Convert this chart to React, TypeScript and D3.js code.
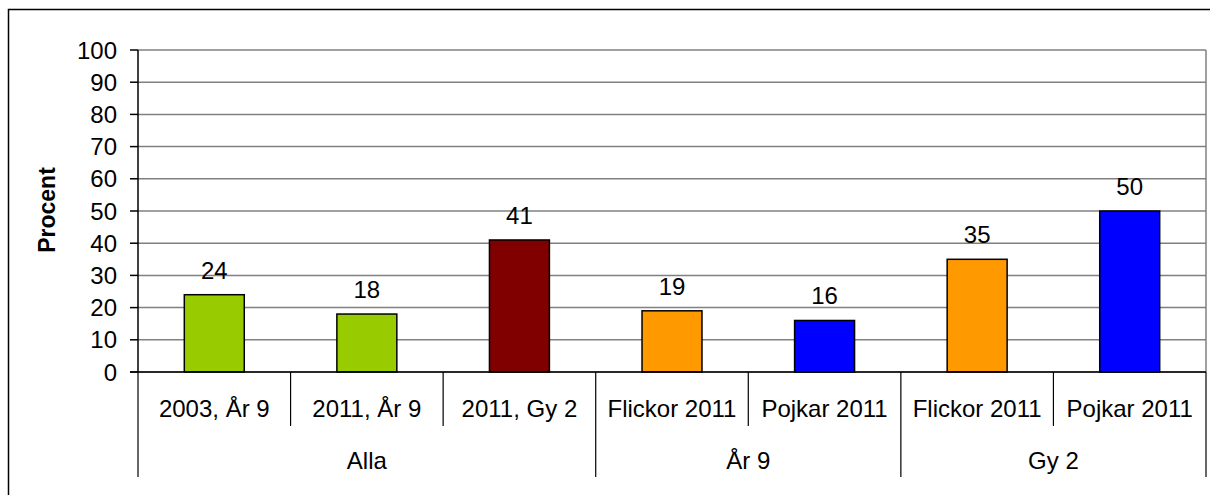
import React from "react";
import * as d3 from "d3";

const categories = [
  "2003, År 9",
  "2011, År 9",
  "2011, Gy 2",
  "Flickor 2011",
  "Pojkar 2011",
  "Flickor 2011",
  "Pojkar 2011",
];
const values = [24, 18, 41, 19, 16, 35, 50];
const barColors = ["#99CC00", "#99CC00", "#800000", "#FF9900", "#0000FF", "#FF9900", "#0000FF"];
const groupNames = ["Alla", "År 9", "Gy 2"];
const groupSizes = [3, 2, 2];
const yTicks = [0, 10, 20, 30, 40, 50, 60, 70, 80, 90, 100];

const width = 1210;
const height = 495;
const plot = { left: 138, right: 1206, top: 50, bottom: 372 };
const font = "Liberation Sans, Arial, sans-serif";
const fontSize = 24;

const App: React.FC = () => {
  const x = d3
    .scaleBand<number>()
    .domain(categories.map((_, i) => i))
    .range([plot.left, plot.right])
    .padding(0);
  const y = d3.scaleLinear().domain([0, 100]).range([plot.bottom, plot.top]);
  const bw = x.bandwidth();
  const barW = bw * 0.393;

  // where each group begins / ends
  const groupStarts: number[] = [];
  let acc = 0;
  groupSizes.forEach((s) => {
    groupStarts.push(acc);
    acc += s;
  });
  const groupEdges = [...groupStarts, categories.length];
  const edgeX = (i: number) => (i < categories.length ? (x(i) as number) : plot.right);

  return (
    <div style={{ position: "fixed", left: 0, top: 0 }}>
      <svg width={width} height={height} style={{ display: "block", background: "#fff" }}>
        {/* outer frame */}
        <rect x={8.5} y={9.5} width={width + 10} height={height + 10} fill="none" stroke="#000" strokeWidth={1.5} />

        {/* gridlines */}
        {yTicks.map((t) => (
          <line key={t} x1={plot.left} x2={plot.right} y1={y(t)} y2={y(t)} stroke="#808080" strokeWidth={1.5} />
        ))}
        <line x1={plot.right} x2={plot.right} y1={plot.top} y2={plot.bottom} stroke="#808080" strokeWidth={1.5} />

        {/* y ticks and labels */}
        {yTicks.map((t) => (
          <g key={"t" + t}>
            <line x1={plot.left - 8} x2={plot.left} y1={y(t)} y2={y(t)} stroke="#000" strokeWidth={1.5} />
            <text x={117} y={y(t) + 8.5} textAnchor="end" fontFamily={font} fontSize={fontSize} fill="#000">
              {t}
            </text>
          </g>
        ))}

        <text
          transform={`translate(55,210) rotate(-90)`}
          textAnchor="middle"
          fontFamily={font}
          fontSize={23}
          fontWeight="bold"
          fill="#000"
        >
          Procent
        </text>

        {/* bars */}
        {values.map((v, i) => {
          const cx = (x(i) as number) + bw / 2;
          return (
            <g key={"b" + i}>
              <rect
                x={cx - barW / 2}
                y={y(v)}
                width={barW}
                height={plot.bottom - y(v)}
                fill={barColors[i]}
                stroke="#000"
                strokeWidth={1.5}
              />
              <text x={cx} y={y(v) - 16} textAnchor="middle" fontFamily={font} fontSize={fontSize} fill="#000">
                {v}
              </text>
            </g>
          );
        })}

        {/* axes */}
        <line x1={plot.left} x2={plot.left} y1={plot.top} y2={plot.bottom} stroke="#000" strokeWidth={1.5} />
        <line x1={plot.left - 8} x2={plot.right} y1={plot.bottom} y2={plot.bottom} stroke="#000" strokeWidth={1.5} />

        {/* category separators */}
        {categories.map((_, i) =>
          groupEdges.includes(i) ? null : (
            <line key={"s" + i} x1={edgeX(i)} x2={edgeX(i)} y1={plot.bottom} y2={426} stroke="#000" strokeWidth={1.2} />
          )
        )}
        {groupEdges.map((g) => (
          <line key={"g" + g} x1={edgeX(g)} x2={edgeX(g)} y1={plot.bottom} y2={477} stroke="#000" strokeWidth={1.2} />
        ))}

        {/* category labels */}
        {categories.map((c, i) => (
          <text
            key={"c" + i}
            x={(x(i) as number) + bw / 2}
            y={417}
            textAnchor="middle"
            fontFamily={font}
            fontSize={fontSize}
            fill="#000"
          >
            {c}
          </text>
        ))}

        {/* group labels */}
        {groupNames.map((g, k) => (
          <text
            key={"gl" + k}
            x={(edgeX(groupEdges[k]) + edgeX(groupEdges[k + 1])) / 2}
            y={469}
            textAnchor="middle"
            fontFamily={font}
            fontSize={fontSize}
            fill="#000"
          >
            {g}
          </text>
        ))}
      </svg>
    </div>
  );
};

export default App;
